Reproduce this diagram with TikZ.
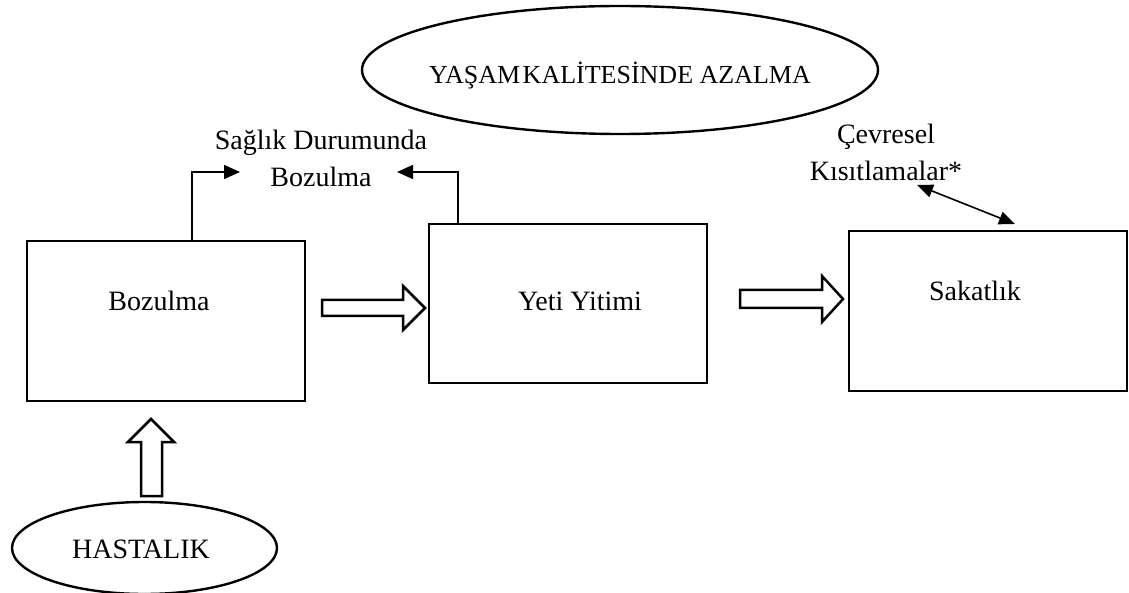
\documentclass[tikz,border=0pt]{standalone}
\usepackage{fontspec}
\setmainfont{Liberation Serif}
\usetikzlibrary{arrows.meta,shapes.geometric}
\begin{document}
\begin{tikzpicture}[x=1pt,y=-1pt,
  box/.style={draw,line width=2.8pt,minimum width=278pt,minimum height=160pt,anchor=north west,inner sep=0pt,outer sep=0pt},
  oval/.style={draw,ellipse,line width=2.4pt,inner sep=0pt},
  txt/.style={font=\fontsize{28}{37}\selectfont,inner sep=0pt},
  qtxt/.style={font=\fontsize{26}{30}\selectfont,inner sep=0pt},
  conn/.style={line width=1.6pt,-{Triangle[length=16pt,width=14pt]}},
  both/.style={line width=1.6pt,{Triangle[length=16pt,width=13pt]}-{Triangle[length=16pt,width=13pt]}},
  blockarrow/.style={draw,line width=2.5pt,fill=white,line join=miter}
]
\useasboundingbox (0,0) rectangle (1129,593);

% boxes
\node[box] (boz) at (27,241) {};
\node[box,minimum height=159pt] (yeti) at (429,224) {};
\node[box] (sak) at (849,231) {};

% box texts
\node[txt,anchor=base] (bozt) at (159,311) {Bozulma};
\node[txt,anchor=base] (yetit) at (580,311) {Yeti Yitimi};
\node[txt,anchor=base] (sakt) at (975,301) {Sakatlık};

% ellipses
\node[oval,minimum width=516pt,minimum height=128pt] (qol) at (620,70) {};
\node[qtxt,anchor=base] (qolt) at (620,84) {YAŞAM\hspace{0.1em}KALİTESİNDE AZALMA};
\node[oval,minimum width=265pt,minimum height=92pt] (has) at (144.5,548) {};
\node[txt,anchor=base] (hast) at (141,558) {HASTALIK};

% side labels
\node[txt,align=center] (sdb) at (321,158) {Sağlık Durumunda\\Bozulma};
\node[txt,align=center] (cev) at (886,152) {Çevresel\\Kısıtlamalar*};

% thin connectors
\coordinate (t1) at (240,172);
\coordinate (t2) at (397,172);
\draw[conn] ([xshift=165pt]boz.north west) |- (t1);
\draw[conn] ([xshift=29pt]yeti.north west) |- (t2);
\coordinate (c1) at (917,185);
\coordinate (c2) at (1015,224);
\draw[both] (c1) -- (c2);

% block arrows
\draw[blockarrow] (322,300) -- (403,300) -- (403,286) -- (425,308) -- (403,330) -- (403,316) -- (322,316) -- cycle;
\draw[blockarrow] (740,290) -- (822,290) -- (822,276) -- (843,299) -- (822,322) -- (822,308) -- (740,308) -- cycle;
\draw[blockarrow] (141,496) -- (141,442) -- (128,442) -- (151,419) -- (174,442) -- (162,442) -- (162,496) -- cycle;
\end{tikzpicture}
\end{document}
